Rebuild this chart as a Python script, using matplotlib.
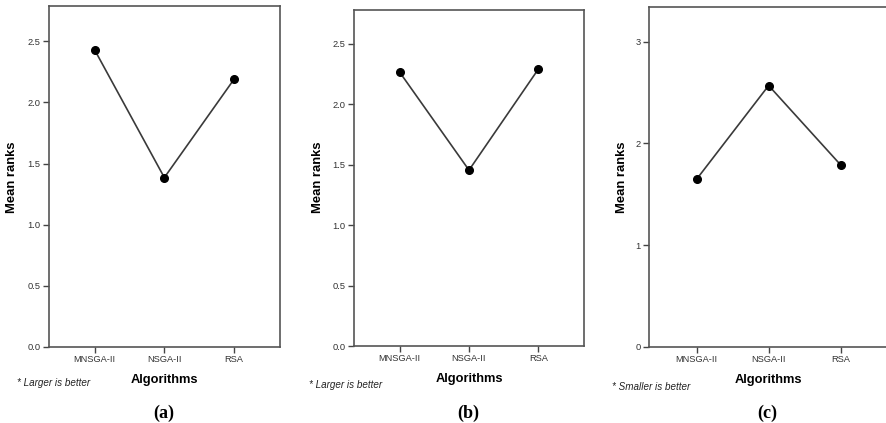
import matplotlib.pyplot as plt
import numpy as np

W, H = 887, 423

algorithms = ["MNSGA-II", "NSGA-II", "RSA"]
ranks_a = [2.43, 1.385, 2.19]
ranks_b = [2.265, 1.455, 2.29]
ranks_c = [1.65, 2.57, 1.79]
notes = ["* Larger is better", "* Larger is better", "* Smaller is better"]
captions = ["(a)", "(b)", "(c)"]

# panel layout in pixels: left, right, top, bottom
boxes = [(48.7, 280, 6, 346.7), (354, 584, 10, 346), (649.3, 888, 7.3, 346.7)]
ylims = [2.79, 2.78, 3.34]
yticks = [np.arange(0, 2.6, 0.5), np.arange(0, 2.6, 0.5), [0, 1, 2, 3]]
yfmt = ["{:.1f}", "{:.1f}", "{:.0f}"]
note_pos = [(16.7, 383), (309, 385), (611.7, 386.7)]
ylab_x = [12, 318, 622]

plt.rcParams['font.family'] = ['Liberation Sans', 'DejaVu Sans']

fig = plt.figure(figsize=(W / 100, H / 100), dpi=100)

for i, ranks in enumerate([ranks_a, ranks_b, ranks_c]):
    l, r, t, b = boxes[i]
    ax = fig.add_axes([l / W, 1 - b / H, (r - l) / W, (b - t) / H])
    x = np.arange(len(algorithms))
    ax.plot(x, ranks, color='#3a3a3a', lw=1.2, marker='o', ms=5.5,
            mfc='black', mec='black', zorder=3)
    ax.set_xlim(-0.66, 2.66)
    ax.set_ylim(0, ylims[i])
    ax.set_xticks(x)
    ax.set_xticklabels(algorithms, fontsize=6.7, color='#333333')
    ax.set_yticks(yticks[i])
    ax.set_yticklabels([yfmt[i].format(v) for v in yticks[i]], fontsize=6.7, color='#333333')
    ax.tick_params(direction='out', length=4, width=1, color='#444444', pad=2)
    for s in ax.spines.values():
        s.set_color('#555555')
        s.set_linewidth(1.2)
    ax.set_xlabel("Algorithms", fontsize=9.3, fontweight='bold', labelpad=7)
    cx = (l + r) / 2
    fig.text(ylab_x[i] / W, 1 - 177 / H, "Mean ranks", rotation=90, fontsize=9.4,
             fontweight='bold', ha='center', va='center')
    fig.text(note_pos[i][0] / W, 1 - note_pos[i][1] / H, notes[i], fontsize=7.1,
             style='italic', color='#222222', ha='left', va='center')
    fig.text((cx - 1) / W, 1 - 413 / H, captions[i], fontsize=13, fontweight='bold',
             family=['Liberation Serif', 'DejaVu Serif'], ha='center', va='center')

fig.savefig("out.png", dpi=100)
